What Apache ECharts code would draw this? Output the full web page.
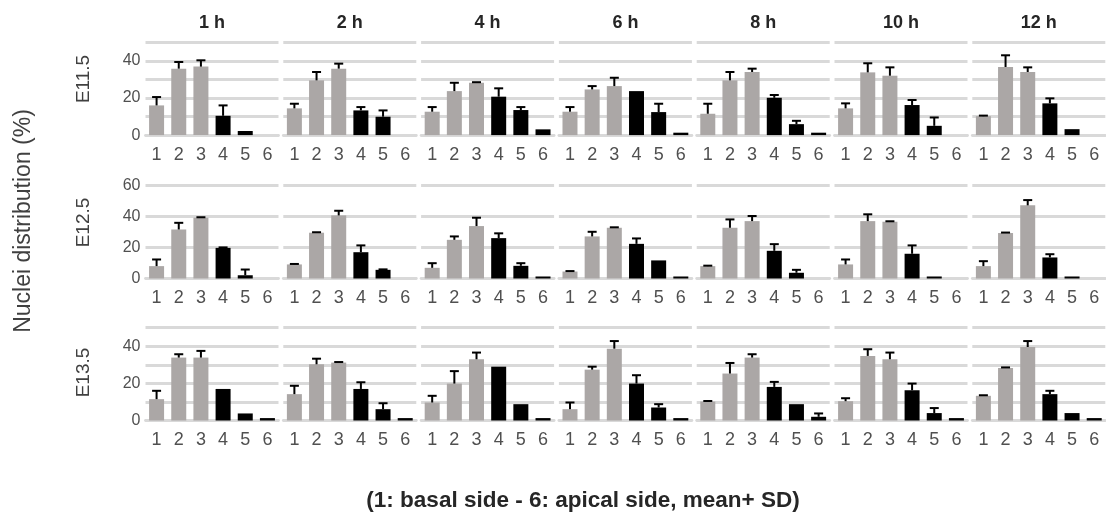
<!DOCTYPE html>
<html>
<head>
<meta charset="utf-8">
<script src="https://cdn.jsdelivr.net/npm/echarts@6/dist/echarts.min.js"></script>
<style>html,body{margin:0;padding:0;background:#fff;}#chart{width:1106px;height:520px;}</style>
</head>
<body>
<div id="chart"></div>
<script>
const categories = ['1', '2', '3', '4', '5', '6'];
const times = ['1 h', '2 h', '4 h', '6 h', '8 h', '10 h', '12 h'];
const stages = ['E11.5', 'E12.5', 'E13.5'];
const yMaxByRow = [50, 60, 50];
const yIntervalByRow = [10, 20, 10];

// mean values, one array per time point (1h..12h)
const meanE115 = [
  [16.0, 35.8, 36.9, 10.4, 2.2, 0],
  [14.4, 29.5, 35.8, 13.3, 9.9, 0],
  [12.6, 23.7, 28.2, 20.7, 13.5, 3.1],
  [12.6, 24.6, 26.4, 23.7, 12.4, 1.3],
  [11.5, 29.5, 34.0, 20.1, 5.9, 1.3],
  [14.4, 33.8, 32.0, 16.2, 5.0, 0],
  [10.2, 36.7, 34.0, 17.1, 3.2, 0]
];
const sdE115 = [
  [4.5, 3.6, 3.4, 5.6, 0, 0],
  [2.5, 4.5, 2.7, 1.8, 3.4, 0],
  [2.5, 4.5, 0.3, 4.5, 1.6, 0],
  [2.5, 1.8, 4.5, 0, 4.5, 0],
  [5.4, 4.5, 1.8, 1.5, 1.8, 0],
  [2.7, 4.9, 4.5, 2.7, 4.5, 0],
  [0.3, 6.3, 2.5, 2.7, 0, 0]
];
const meanE125 = [
  [8.0, 31.7, 39.3, 19.8, 2.1, 0],
  [9.1, 29.6, 40.8, 17.0, 5.6, 0],
  [6.9, 25.0, 33.9, 26.1, 8.2, 1.3],
  [4.5, 27.2, 32.8, 22.4, 11.7, 1.3],
  [8.0, 32.8, 37.1, 17.9, 3.7, 0],
  [9.1, 37.1, 36.7, 16.0, 1.3, 0],
  [8.0, 29.4, 47.3, 13.6, 1.3, 0]
];
const sdE125 = [
  [4.3, 4.3, 0.3, 0.3, 3.7, 0],
  [0.3, 0.3, 3.0, 4.4, 0.3, 0],
  [3.0, 2.2, 5.4, 3.1, 1.7, 0],
  [0.3, 3.0, 0.3, 3.5, 0, 0],
  [0.3, 5.4, 3.3, 4.3, 1.9, 0],
  [3.2, 4.4, 0.3, 5.4, 0, 0],
  [3.2, 0.3, 3.4, 2.1, 0, 0]
];
const meanE135 = [
  [11.5, 33.9, 33.9, 17.0, 3.8, 1.3],
  [14.2, 30.3, 31.2, 17.0, 6.1, 1.3],
  [9.7, 19.9, 33.0, 29.0, 8.8, 1.3],
  [6.1, 27.4, 38.7, 19.9, 7.0, 1.3],
  [10.2, 25.3, 33.9, 18.1, 8.8, 2.0],
  [10.4, 34.8, 33.0, 16.3, 4.0, 1.3],
  [13.3, 28.3, 39.6, 14.2, 4.0, 1.3]
];
const sdE135 = [
  [4.5, 1.8, 3.6, 0, 0, 0],
  [4.5, 3.0, 0.3, 3.6, 3.2, 0],
  [3.6, 6.7, 3.6, 0, 0, 0],
  [3.6, 1.6, 4.1, 4.5, 1.8, 0],
  [0.3, 5.7, 1.8, 2.7, 0, 1.8],
  [1.6, 3.6, 3.6, 3.6, 2.7, 0],
  [0.3, 0.3, 3.2, 1.8, 0, 0]
];

const means = [meanE115, meanE125, meanE135];
const sds = [sdE115, sdE125, sdE135];

const FONT = "'Liberation Sans', Arial, sans-serif";
const GRAY = '#ABA7A6';
const GRID_COLOR = '#D9D9D9';
const rowTop = [42.3, 185.7, 327.7];
const rowHeight = 92.8;
const colLeft0 = 145.5, colStep = 137.8, colWidth = 133;

const grids = [], xAxes = [], yAxes = [], series = [], graphics = [];

stages.forEach((stage, r) => {
  times.forEach((t, c) => {
    const gi = r * times.length + c;
    const left = colLeft0 + c * colStep;
    grids.push({ left: left, top: rowTop[r], width: colWidth, height: rowHeight });
    xAxes.push({
      type: 'category', gridIndex: gi, data: categories,
      axisTick: { show: false },
      axisLine: { lineStyle: { color: GRID_COLOR, width: 2.8 } },
      axisLabel: { fontSize: 18, color: '#505050', margin: 11, fontFamily: FONT, interval: 0 }
    });
    yAxes.push({
      type: 'value', gridIndex: gi, min: 0, max: yMaxByRow[r], interval: yIntervalByRow[r],
      axisLine: { show: false }, axisTick: { show: false },
      splitLine: { lineStyle: { color: GRID_COLOR, width: 2.8 } },
      axisLabel: {
        show: c === 0, fontSize: 16, color: '#505050', margin: 5, fontFamily: FONT,
        formatter: v => (v % 20 === 0 ? String(v) : '')
      }
    });
    const m = means[r][c], s = sds[r][c];
    series.push({
      type: 'bar', xAxisIndex: gi, yAxisIndex: gi, barWidth: 15,
      data: m.map((v, k) => ({ value: v, itemStyle: { color: k < 3 ? GRAY : '#000000' } })),
      animation: false, silent: true
    });
    series.push({
      type: 'custom', xAxisIndex: gi, yAxisIndex: gi,
      data: m.map((v, k) => [k, v, s[k]]),
      encode: { x: 0, y: 1 },
      animation: false, silent: true, z: 3,
      renderItem: function (params, api) {
        const idx = api.value(0), mv = api.value(1), sv = api.value(2);
        if (!(sv > 0)) return null;
        const p0 = api.coord([idx, mv]);
        const p1 = api.coord([idx, mv + sv]);
        return {
          type: 'group',
          children: [
            { type: 'line', shape: { x1: p0[0], y1: p0[1], x2: p1[0], y2: p1[1] }, style: { stroke: '#000', lineWidth: 2 } },
            { type: 'line', shape: { x1: p1[0] - 4.5, y1: p1[1], x2: p1[0] + 4.5, y2: p1[1] }, style: { stroke: '#000', lineWidth: 2 } }
          ]
        };
      }
    });
  });
});

// column titles
times.forEach((t, c) => {
  graphics.push({
    type: 'text', x: colLeft0 + c * colStep + colWidth / 2, y: 23,
    style: { text: t, font: "bold 18px " + FONT, fill: '#262626', textAlign: 'center', textVerticalAlign: 'middle' }
  });
});
// row labels
const rowLabelY = [79, 222.5, 372.5];
stages.forEach((s, r) => {
  graphics.push({
    type: 'text', x: 84, y: rowLabelY[r], rotation: Math.PI / 2,
    style: { text: s, font: "19px " + FONT, fill: '#404040', textAlign: 'center', textVerticalAlign: 'middle' }
  });
});
graphics.push({
  type: 'text', x: 24, y: 221, rotation: Math.PI / 2,
  style: { text: 'Nuclei distribution (%)', font: "23px " + FONT, fill: '#404040', textAlign: 'center', textVerticalAlign: 'middle' }
});
graphics.push({
  type: 'text', x: 583, y: 501,
  style: { text: '(1: basal side - 6: apical side, mean+ SD)', font: "bold 22.5px " + FONT, fill: '#262626', textAlign: 'center', textVerticalAlign: 'middle' }
});

const chart = echarts.init(document.getElementById('chart'), null, { renderer: 'canvas' });
chart.setOption({
  animation: false,
  backgroundColor: '#ffffff',
  grid: grids, xAxis: xAxes, yAxis: yAxes, series: series,
  graphic: graphics
});
</script>
</body>
</html>
